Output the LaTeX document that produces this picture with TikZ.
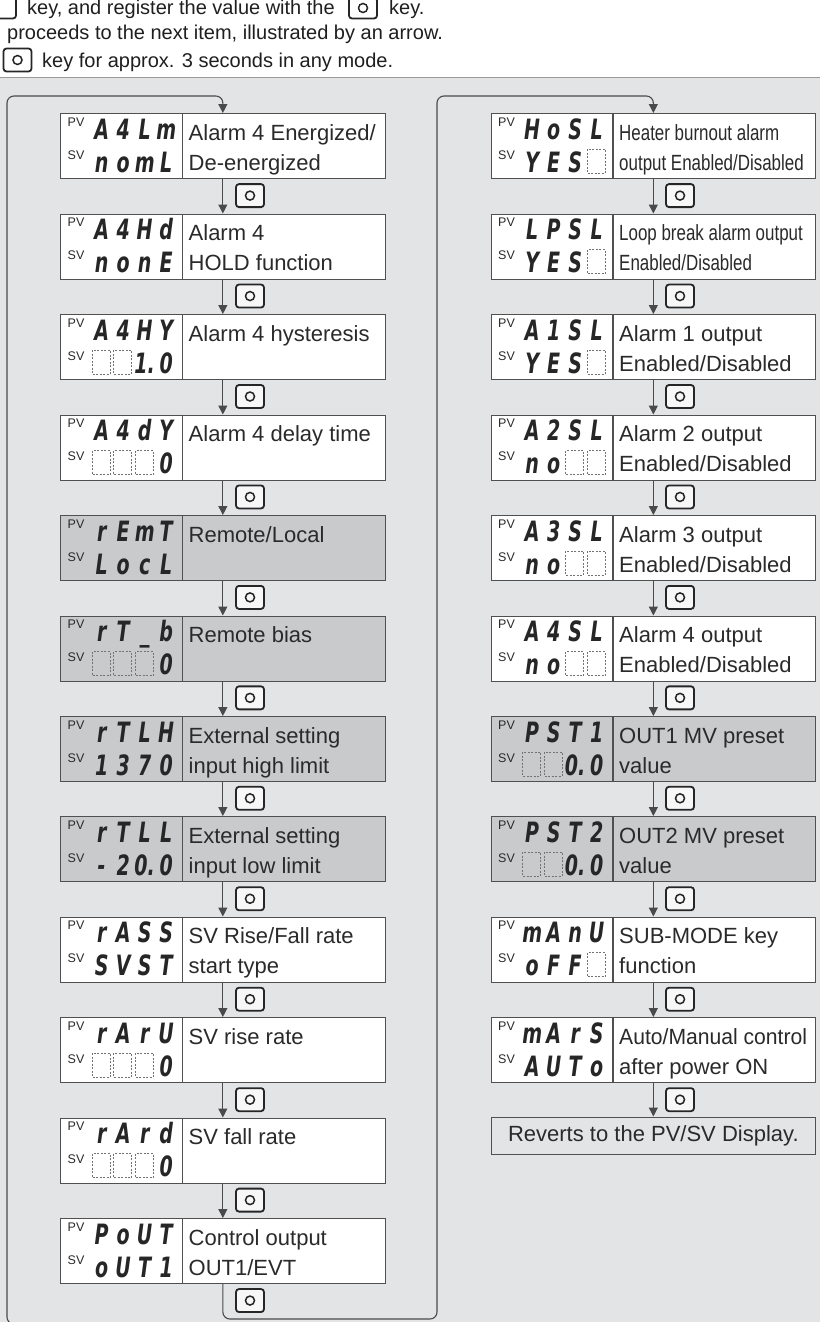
\documentclass[tikz,border=0pt]{standalone}
\usepackage{fontspec}
\usepackage{graphicx}
\setmainfont{Liberation Sans}
\newfontfamily\segfont{DejaVu Sans}
\usetikzlibrary{arrows.meta}
\definecolor{panelbg}{HTML}{E3E4E6}
\definecolor{shade}{HTML}{C9CACC}
\definecolor{boxline}{HTML}{505050}
\definecolor{txt}{HTML}{2A2A2A}
\definecolor{lineclr}{HTML}{4A4A4A}
\newcommand\sg[1]{\makebox[21.5pt][c]{\scalebox{0.68}[1]{#1}}}
\newcommand\segs[4]{\sg{#1}\sg{#2}\sg{#3}\sg{#4}}
\newcommand\cond[2][0.77]{\scalebox{#1}[1]{#2}}
\newcommand\pvbox[8]{%
  \node[dbox, fill=#4, anchor=north west] (#1) at (#2,#3) {};
  \draw[divline] (#2+122.5,#3) -- (#2+122.5,#3+65);
  \node[lbl] (#1pvl) at (#2+7.5,#3+13) {PV};
  \node[lbl] (#1svl) at (#2+7.5,#3+46) {SV};
  \node[seg] (#1pv) at (#2+30.75,#3+26) {#5};
  \node[seg] (#1sv) at (#2+30.75,#3+59) {#6};
  \node[desc] (#1a) at (#2+128.5,#3+27) {#7};
  \if\relax\detokenize{#8}\relax\else\node[desc] (#1b) at (#2+128.5,#3+57) {#8};\fi
}
\newcommand\blank[3]{\draw[dashbox] (#1+41+21.5*#3-9,#2+36) rectangle (#1+41+21.5*#3+9,#2+60);}
\begin{document}
\begin{tikzpicture}[x=1pt,y=-1pt,
  dbox/.style={draw=boxline, line width=1.2pt, minimum width=324.5pt, minimum height=65pt, inner sep=0pt},
  divline/.style={draw=boxline, line width=1.1pt},
  lbl/.style={anchor=base west, inner sep=0pt, font=\fontsize{12.5}{14}\selectfont, text=txt},
  seg/.style={anchor=base west, inner sep=0pt, font=\segfont\bfseries\itshape\fontsize{28}{30}\selectfont, text=black!85},
  desc/.style={anchor=base west, inner sep=0pt, font=\fontsize{22}{26}\selectfont, text=txt},
  hdr/.style={anchor=base west, inner sep=0pt, font=\fontsize{20}{24}\selectfont, text=black!88},
  dashbox/.style={draw=black!55, dash pattern=on 2pt off 1.5pt, line width=0.8pt},
  arr/.style={draw=lineclr, line width=1.1pt, -{Triangle[length=9pt,width=9pt]}},
  loopl/.style={draw=lineclr, line width=1.1pt, rounded corners=7pt, -{Triangle[length=9pt,width=9pt]}},
  keyicon/.style={draw=black!85, line width=1.8pt, rounded corners=3pt, fill=white!70!panelbg,
    minimum width=28pt, minimum height=23pt, inner sep=0pt,
    path picture={\draw[line width=1.5pt, black!85] (path picture bounding box.center) circle (4.5pt);}},
  keyframe/.style={draw=black!85, line width=1.8pt, rounded corners=3pt, fill=white,
    minimum width=28pt, minimum height=21pt, inner sep=0pt}
]
\useasboundingbox (0,0) rectangle (820,1322);
\fill[white] (0,0) rectangle (820,1322);
\fill[panelbg] (0,77) rectangle (820,1322);
\draw[black!40, line width=0.8pt] (0,77) -- (820,77);

% header
\node[keyframe] (h0k) at (2,8) {};
\node[hdr] (h1) at (27,15) {key, and register the value with the};
\node[keyicon, fill=white, minimum height=21pt] (h1k) at (363,8) {};
\node[hdr] (h1b) at (389,15) {key.};
\node[hdr] (h2) at (7,40) {proceeds to the next item, illustrated by an arrow.};
\node[keyicon, fill=white] (h3k) at (17.5,60) {};
\node[hdr] (h3) at (42,67) {key for approx. 3 seconds in any mode.};

% left column
\pvbox{L0}{60}{113}{white}{\segs{A}{4}{L}{m}}{\segs{n}{o}{m}{L}}{Alarm 4 Energized/}{De-energized}
\pvbox{L1}{60}{213.5}{white}{\segs{A}{4}{H}{d}}{\segs{n}{o}{n}{E}}{Alarm 4}{HOLD function}
\pvbox{L2}{60}{314}{white}{\segs{A}{4}{H}{Y}}{\segs{}{}{1.}{0}}{Alarm 4 hysteresis}{}
\blank{60}{314}{0}\blank{60}{314}{1}
\pvbox{L3}{60}{414.5}{white}{\segs{A}{4}{d}{Y}}{\segs{}{}{}{0}}{Alarm 4 delay time}{}
\blank{60}{414.5}{0}\blank{60}{414.5}{1}\blank{60}{414.5}{2}
\pvbox{L4}{60}{515}{shade}{\segs{r}{E}{m}{T}}{\segs{L}{o}{c}{L}}{Remote/Local}{}
\pvbox{L5}{60}{615.5}{shade}{\segs{r}{T}{\_}{b}}{\segs{}{}{}{0}}{Remote bias}{}
\blank{60}{615.5}{0}\blank{60}{615.5}{1}\blank{60}{615.5}{2}
\pvbox{L6}{60}{716}{shade}{\segs{r}{T}{L}{H}}{\segs{1}{3}{7}{0}}{External setting}{input high limit}
\pvbox{L7}{60}{816}{shade}{\segs{r}{T}{L}{L}}{\segs{-}{2}{0.}{0}}{External setting}{input low limit}
\pvbox{L8}{60}{916.5}{white}{\segs{r}{A}{S}{S}}{\segs{S}{V}{S}{T}}{SV Rise/Fall rate}{start type}
\pvbox{L9}{60}{1017}{white}{\segs{r}{A}{r}{U}}{\segs{}{}{}{0}}{SV rise rate}{}
\blank{60}{1017}{0}\blank{60}{1017}{1}\blank{60}{1017}{2}
\pvbox{L10}{60}{1117.5}{white}{\segs{r}{A}{r}{d}}{\segs{}{}{}{0}}{SV fall rate}{}
\blank{60}{1117.5}{0}\blank{60}{1117.5}{1}\blank{60}{1117.5}{2}
\pvbox{L11}{60}{1218}{white}{\segs{P}{o}{U}{T}}{\segs{o}{U}{T}{1}}{Control output}{OUT1/EVT}

% right column
\pvbox{R0}{490.5}{113}{white}{\segs{H}{o}{S}{L}}{\segs{Y}{E}{S}{}}{\cond{Heater burnout alarm}}{\cond{output Enabled/Disabled}}
\blank{490.5}{113}{3}
\pvbox{R1}{490.5}{213.5}{white}{\segs{L}{P}{S}{L}}{\segs{Y}{E}{S}{}}{\cond{Loop break alarm output}}{\cond{Enabled/Disabled}}
\blank{490.5}{213.5}{3}
\pvbox{R2}{490.5}{314}{white}{\segs{A}{1}{S}{L}}{\segs{Y}{E}{S}{}}{Alarm 1 output}{Enabled/Disabled}
\blank{490.5}{314}{3}
\pvbox{R3}{490.5}{414.5}{white}{\segs{A}{2}{S}{L}}{\segs{n}{o}{}{}}{Alarm 2 output}{Enabled/Disabled}
\blank{490.5}{414.5}{2}\blank{490.5}{414.5}{3}
\pvbox{R4}{490.5}{515}{white}{\segs{A}{3}{S}{L}}{\segs{n}{o}{}{}}{Alarm 3 output}{Enabled/Disabled}
\blank{490.5}{515}{2}\blank{490.5}{515}{3}
\pvbox{R5}{490.5}{615.5}{white}{\segs{A}{4}{S}{L}}{\segs{n}{o}{}{}}{Alarm 4 output}{Enabled/Disabled}
\blank{490.5}{615.5}{2}\blank{490.5}{615.5}{3}
\pvbox{R6}{490.5}{716}{shade}{\segs{P}{S}{T}{1}}{\segs{}{}{0.}{0}}{OUT1 MV preset}{value}
\blank{490.5}{716}{0}\blank{490.5}{716}{1}
\pvbox{R7}{490.5}{816}{shade}{\segs{P}{S}{T}{2}}{\segs{}{}{0.}{0}}{OUT2 MV preset}{value}
\blank{490.5}{816}{0}\blank{490.5}{816}{1}
\pvbox{R8}{490.5}{916.5}{white}{\segs{m}{A}{n}{U}}{\segs{o}{F}{F}{}}{SUB-MODE key}{function}
\blank{490.5}{916.5}{3}
\pvbox{R9}{490.5}{1017}{white}{\segs{m}{A}{r}{S}}{\segs{A}{U}{T}{o}}{\cond[0.96]{Auto/Manual control}}{after power ON}
\node[dbox, fill=panelbg, minimum height=37pt, anchor=north west, font=\fontsize{22}{26}\selectfont, text=txt] (R10) at (490.5,1116.5) {Reverts to the PV/SV Display.};

% arrows between boxes
\foreach \i/\j in {0/1,1/2,2/3,3/4,4/5,5/6,6/7,7/8,8/9,9/10,10/11}
  \draw[arr] (L\i.south) -- (L\j.north);
\foreach \i/\j in {0/1,1/2,2/3,3/4,4/5,5/6,6/7,7/8,8/9,9/10}
  \draw[arr] (R\i.south) -- (R\j.north);

% key icons
\foreach \i in {0,...,11}
  \node[keyicon] (kL\i) at (250,{113+100.45*\i+82.6}) {};
\foreach \i in {0,...,9}
  \node[keyicon] (kR\i) at (680,{113+100.45*\i+82.6}) {};

% loop lines
\coordinate (lb) at (24,1324);
\coordinate (lt) at (7,96);
\draw[loopl] (lb) -| (lt) -| (L0.north);
\coordinate (bl1) at (437,1319);
\coordinate (tl1) at (437,96);
\draw[loopl] (L11.south) |- (bl1) -- (tl1) -| (R0.north);
\end{tikzpicture}
\end{document}
